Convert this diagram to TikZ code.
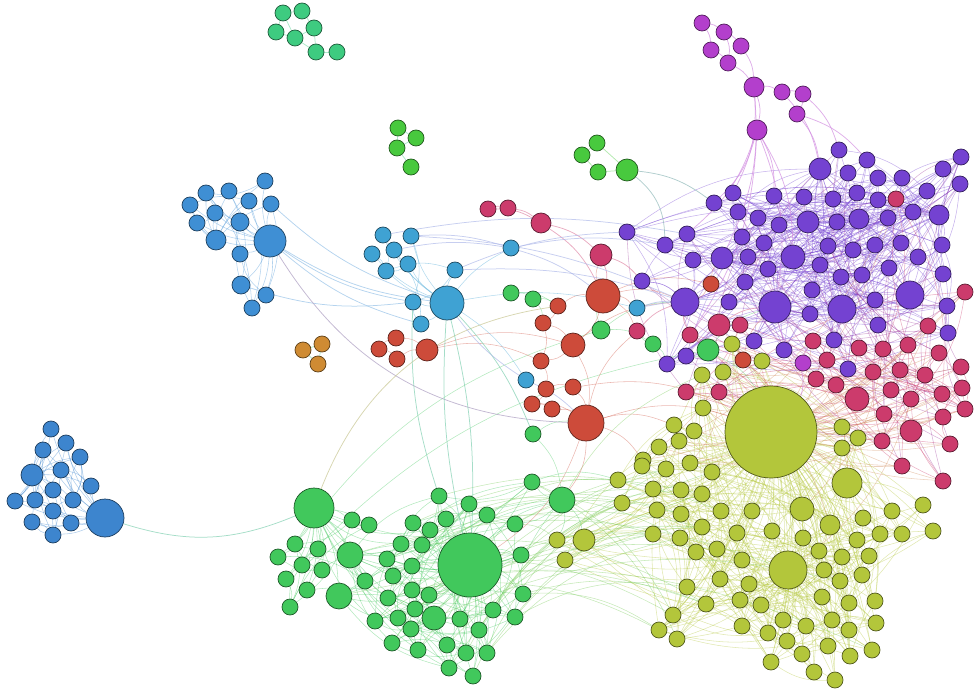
\documentclass[tikz,border=0pt]{standalone}
\usetikzlibrary{backgrounds}
\definecolor{cY}{HTML}{B3C63B}
\definecolor{cP}{HTML}{7442D1}
\definecolor{cK}{HTML}{CC3B6C}
\definecolor{cR}{HTML}{CD4B3A}
\definecolor{cG}{HTML}{41C85C}
\definecolor{cGb}{HTML}{48C93E}
\definecolor{cT}{HTML}{3ECB80}
\definecolor{cO}{HTML}{CF8B33}
\definecolor{cM}{HTML}{B33FCC}
\definecolor{cL}{HTML}{3D85CE}
\definecolor{cB}{HTML}{3F8FD4}
\definecolor{cC}{HTML}{3FA2D3}
\definecolor{cTeal}{HTML}{7FCFB0}
\definecolor{cGP}{HTML}{A99ABF}
\definecolor{cOl}{HTML}{C6C48F}
\definecolor{cBP}{HTML}{8C9BE0}
\definecolor{cGr}{HTML}{8FB8B8}
\definecolor{cBr}{HTML}{D08A5A}
\tikzset{
 nd/.style={circle,inner sep=0pt,minimum size=16pt,line width=0.7pt},
 ny/.style={nd,fill=cY,draw=cY!45!black},
 np/.style={nd,fill=cP,draw=cP!45!black},
 nk/.style={nd,fill=cK,draw=cK!45!black},
 nr/.style={nd,fill=cR,draw=cR!45!black},
 ng/.style={nd,fill=cG,draw=cG!45!black},
 ngb/.style={nd,fill=cGb,draw=cGb!45!black},
 nt/.style={nd,fill=cT,draw=cT!45!black},
 no/.style={nd,fill=cO,draw=cO!45!black},
 nm/.style={nd,fill=cM,draw=cM!45!black},
 nl/.style={nd,fill=cL,draw=cL!45!black},
 nb/.style={nd,fill=cB,draw=cB!45!black},
 nc/.style={nd,fill=cC,draw=cC!45!black},
 e/.style={draw=#1,line width=0.55pt,opacity=0.4},
 ee/.style={draw=#1,line width=0.75pt,opacity=0.7},
}
\newcommand\mkcluster[5]{%
 \foreach \px/\py/\pd [count=\i] in {#3}{\node[#2,minimum size=\pd pt] (#1\i) at (\px,\py) {};}%
 \foreach \px/\py [count=\i from #4] in {#5}{\node[#2] (#1\i) at (\px,\py) {};}%
}
\newcommand\stare[5]{\foreach \i in {#3,...,#4}{\draw[e=#5] (#1#2) to[bend left=12] (#1\i);}}
\newcommand\rande[7]{\foreach \i in {#2,...,#3}{%
 \pgfmathrandominteger{\j}{#5}{#6}\edef\tmpa{#1\i}\edef\tmpb{#4\j}%
 \ifx\tmpa\tmpb\else\draw[e=#7] (#1\i) to[bend left=18] (#4\j);\fi}}
\begin{document}
\begin{tikzpicture}[x=1pt,y=-1pt]
\useasboundingbox (0,0) rectangle (980,695);
% ---------------- nodes ----------------
\mkcluster{Y}{ny}{771/432/92,788/570/38,847/483/30,802/509/24,584/540/22,830/525/20}{7}{702/375,723/372,732/344,762/361,703/408,674/425,694/431,659/447,679/441,643/460,690/463,842/427,858/438,842/448,752/511,863/518,892/511,923/505,933/531,902/534,880/534,857/540,803/538,772/531,737/533,742/560,819/551,842/557,869/556,824/570,862/575,749/584,840/581,740/600,761/605,822/597,849/603,875/601,742/626,768/633,783/620,806/626,832/620,849/630,876/623,787/641,828/646,872/650,771/662,802/654,850/656,814/672,835/680,618/480,622/503,557/540,565/560,642/466,666/469,712/472,653/489,681/490,702/494,657/510,681/514,721/511,702/527,653/534,680/538,696/552,717/549,720/579,687/587,706/604,673/615,659/630,677/639}
\mkcluster{P}{np}{775/307/32,685/302/28,842/309/28,910/295/28,793/257/24,722/258/22,820/169/22,808/222/22,859/219/20,939/215/20}{11}{627/232,665/245,687/234,693/260,642/281,729/302,667/364,686/356,714/203,733/193,839/150,867/160,848/173,878/178,902/178,943/169,961/157,960/184,927/191,878/200,857/193,833/199,804/197,774/196,738/212,758/218,779/225,837/222,888/218,913/212,742/237,764/243,748/257,768/269,745/282,812/290,820/265,828/246,853/250,875/245,901/243,942/245,918/257,889/268,862/275,841/277,875/300,943/274,947/306,948/333,810/314,878/325,834/340,784/350,754/341,848/369}
\mkcluster{K}{nk}{857/399/24,541/223/20,601/255/22,719/325/22,911/431/22}{6}{488/209,508/208,637/331,690/335,686/392,719/392,896/199,965/292,928/326,740/325,813/341,859/348,883/349,908/345,939/353,827/360,873/372,900/370,925/375,961/367,816/379,836/385,891/390,911/399,942/394,962/388,965/409,884/414,943/417,950/444,882/441,902/466,943/481}
\mkcluster{R}{nr}{586/423/36,603/296/34,573/345/24,427/350/22}{5}{379/349,396/338,397/359,558/306,711/284,543/323,541/361,546/389,573/387,532/404,552/409,743/360}
\mkcluster{G}{ng}{470/565/64,314/508/40,350/555/26,339/596/26,562/500/26,434/618/24,708/350/22,601/330/18}{9}{352/520,369/525,295/544,318/549,278/557,302/565,322/570,286/579,307/590,365/581,290/607,439/496,469/504,487/515,413/523,446/519,430/530,401/544,422/545,387/559,412/566,393/576,412/590,429/595,388/598,375/621,398/618,415/609,411/629,460/619,479/630,392/643,418/650,447/645,466/653,449/668,473/676,532/482,515/524,521/555,523/594,493/610,515/617,487/653,511/293,533/299,653/344,533/434}
\mkcluster{H}{ngb}{627/170/22}{2}{597/143,582/155,598/172}
\mkcluster{S}{ngb}{398/128/16}{2}{416/138,397/148,411/167}
\mkcluster{T}{nt}{283/13/16}{2}{302/11,276/32,295/38,314/28,316/52,337/52}
\mkcluster{O}{no}{303/350/16}{2}{322/344,318/364}
\mkcluster{M}{nm}{754/87/20,757/130/20}{3}{702/23,724/32,711/50,741/46,728/63,782/92,803/94,797/114,803/363}
\mkcluster{L}{nl}{105/518/38,32/475/22}{3}{51/429,66/443,43/450,80/457,61/470,91/486,53/490,15/501,35/500,73/500,53/511,32/522,71/523,53/535}
\mkcluster{B}{nb}{270/241/32,216/240/20,240/222/18,241/285/18}{5}{190/205,206/193,229/191,265/181,249/201,215/213,271/204,197/223,240/254,266/295,252/308}
\mkcluster{C}{nc}{447/303/34}{2}{383/235,411/236,372/254,394/250,408/264,386/271,455/270,413/302,421/324,511/248,637/308,526/380}
% ---------------- edges ----------------
\begin{pgfonlayer}{background}
\pgfmathsetseed{2024}
% yellow
\stare{Y}{1}{2}{83}{cY}
\stare{Y}{2}{29}{59}{cY}
\stare{Y}{2}{76}{83}{cY}
\rande{Y}{2}{83}{Y}{2}{83}{cY}
\rande{Y}{2}{83}{Y}{2}{83}{cY}
\rande{Y}{2}{83}{Y}{2}{83}{cY}
% purple
\rande{P}{1}{66}{P}{1}{66}{cP}
\rande{P}{1}{66}{P}{1}{66}{cP}
\rande{P}{1}{66}{P}{1}{66}{cP}
\rande{P}{1}{66}{P}{1}{10}{cP}
\rande{P}{1}{66}{P}{1}{10}{cP}
% crimson
\foreach \i in {1,4,5,9,10,...,38}{\draw[e=cBr] (K\i) to[bend left=10] (Y1);}
\rande{K}{9}{38}{P}{1}{66}{cK!50!cP}
\rande{K}{9}{38}{P}{1}{66}{cK!50!cP}
\rande{K}{9}{38}{K}{9}{38}{cK}
\rande{K}{9}{38}{K}{9}{38}{cK}
\rande{K}{9}{38}{Y}{2}{20}{cBr}
% green
\stare{G}{1}{20}{52}{cG}
\stare{G}{2}{9}{19}{cG}
\stare{G}{2}{3}{4}{cG}
\rande{G}{9}{19}{G}{3}{19}{cG}
\rande{G}{9}{19}{G}{3}{19}{cG}
\rande{G}{20}{52}{G}{20}{52}{cG}
\rande{G}{20}{52}{G}{20}{52}{cG}
\rande{G}{20}{52}{G}{1}{6}{cG}
\rande{G}{20}{52}{Y}{60}{83}{cG!60!cY}
\rande{G}{3}{6}{Y}{1}{83}{cG!60!cY}
\rande{G}{46}{52}{Y}{60}{83}{cG!60!cY}
\foreach \a/\b in {G1/G5,G5/G46,G5/G47,G1/G48,G1/G49,G5/Y5,G5/Y62,G46/Y60,G56/R1,G56/G5,G53/R8,G54/R8,G53/G54,G54/R10,G8/R2,G8/P2,G55/P17,G55/K8,G7/P1,G7/Y1,G7/P18,G8/G55,G3/G1,G4/G1,G4/G6,G3/G20}{\draw[e=cG] (\a) to[bend left=18] (\b);}
% red
\foreach \a/\b in {R5/R6,R6/R4,R7/R4,R5/R7,R4/R3,R4/R11,R8/R2,R8/R10,R10/R3,R3/R11,R11/R12,R12/R13,R13/R1,R14/R15,R15/R1,R12/R14,R2/R3,R3/R1,R2/P2,R2/R9,R9/P2,R1/Y1,R1/K8,R1/G5,R1/G1,R13/Y1,R2/K8,R16/Y1,R16/P1,R2/C12,R10/R11,R14/R1,R3/P2,R1/Y12,R1/Y16,R2/K3,R9/P6}{\draw[e=cR] (\a) to[bend left=18] (\b);}
% magenta
\foreach \a/\b in {M3/M4,M3/M5,M5/M7,M4/M6,M6/M1,M7/M1,M1/M2,M1/M8,M8/M9,M9/M10,M2/P5,M2/P1,M2/K9,M10/P7,M9/P21,M1/P6,M2/P13,M8/P7,M2/P34,M1/P20,M4/M7,M10/P22,M2/P19,M11/P1,M11/K16,M11/Y1,M11/P64}{\draw[ee=cM!60!white] (\a) to[bend left=15] (\b);}
% crimson left
\foreach \a/\b in {K6/K7,K7/K2,K2/K3,K3/P15,K3/R2,K2/R2,K6/K2,K8/P2,K9/P2,K10/Y1,K11/Y1,K4/P1}{\draw[ee=cK!60!white] (\a) to[bend left=15] (\b);}
% blue clusters
\stare{L}{1}{3}{16}{cL}
\stare{L}{2}{3}{12}{cL}
\rande{L}{2}{16}{L}{2}{16}{cL}
\rande{L}{2}{16}{L}{2}{16}{cL}
\stare{B}{1}{2}{15}{cB}
\stare{B}{2}{5}{12}{cB}
\rande{B}{2}{15}{B}{2}{15}{cB}
\stare{C}{1}{2}{13}{cC}
\rande{C}{2}{10}{C}{2}{10}{cC}
\foreach \a/\b in {B1/C9,B1/C1,B4/C9,B1/C10,B11/C1}{\draw[ee=cB!55!white] (\a) to[bend right=12] (\b);}
\draw[ee=cGP] (B1) to[bend right=28] (R1);
\draw[ee=cTeal] (L1) to[bend right=20] (G2);
\draw[ee=cOl] (G2) to[bend left=30] (R8);
\draw[ee=cTeal] (C1) to[bend left=8] (G1);
\draw[ee=cTeal] (C1) to[bend right=8] (G1);
\draw[ee=cTeal] (C1) to[bend left=10] (G56);
\draw[ee=cTeal] (C9) to[bend right=10] (G20);
\foreach \a/\b in {C2/P13,C3/P2,C8/P2,C8/P11,C5/C11,C11/P12,C12/P2,C13/R1,C13/C1,C3/C11,C11/R2,C12/P1}{\draw[ee=cBP!70!white] (\a) to[bend left=10] (\b);}
\foreach \a/\b in {H2/H1,H4/H1,H3/H2,H3/H4}{\draw[ee=cGb!60!white] (\a) -- (\b);}
\draw[ee=cGr] (H1) to[bend left=15] (P19);
\draw[ee=cGr] (H1) to[bend left=25] (P12);
\foreach \a/\b in {O1/O2,O1/O3,O2/O3,T1/T2,T1/T3,T3/T4,T4/T5,T2/T5,T5/T6,T6/T7,T4/T6,T1/T4,S1/S3,S3/S4,S2/S1,S2/S3}{\draw[ee=cT!60!white] (\a) -- (\b);}
\end{pgfonlayer}
\end{tikzpicture}
\end{document}
